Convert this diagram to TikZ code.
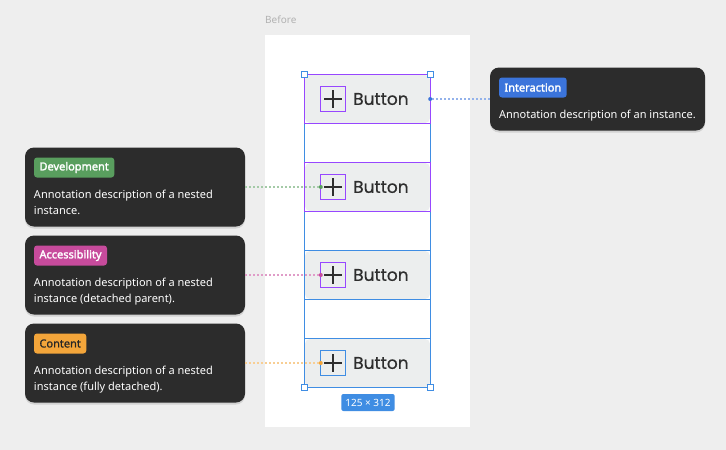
\documentclass[tikz,border=0pt]{standalone}
\usepackage{fontspec}
\setmainfont{Noto Sans}
\newfontfamily\btnfont{Poppins}[FakeBold=0.6]
\newfontfamily\tagfont{Noto Sans}[FakeBold=2.2]
\newfontfamily\plaintagfont{Noto Sans}[FakeBold=0.8]
\usetikzlibrary{shadows,positioning}
\definecolor{canvas}{HTML}{EEEEEE}
\definecolor{cardgray}{HTML}{2C2C2C}
\definecolor{selblue}{HTML}{3F8DE3}
\definecolor{compurple}{HTML}{9747FF}
\definecolor{btngray}{HTML}{ECEEEE}
\definecolor{iconink}{HTML}{2E2E2E}
\definecolor{tagblue}{HTML}{3B74DB}
\definecolor{taggreen}{HTML}{599E5E}
\definecolor{tagpink}{HTML}{C74B9C}
\definecolor{tagorange}{HTML}{F3A53A}
\tikzstyle{frame edge} = [draw=selblue,line width=0.8pt]
\tikzstyle{comp edge} = [draw=compurple,line width=0.8pt]

\begin{document}
\begin{tikzpicture}
[x=1pt,y=-1pt,
button/.style={shape=rectangle,minimum width=125pt,minimum height=48pt,inner sep=0pt,rounded corners=5pt,fill=btngray},
icon/.style={shape=rectangle,minimum size=24pt,inner sep=0pt},
handle/.style={shape=rectangle,minimum size=6pt,inner sep=0pt,fill=white,frame edge},
card/.style={shape=rectangle,rounded corners=9pt,fill=cardgray,inner sep=0pt,drop shadow={opacity=0.25,shadow xshift=0pt,shadow yshift=-2pt}},
tagbox/.style={shape=rectangle,rounded corners=3pt,inner xsep=5.5pt,minimum height=20pt},
desc/.style={inner sep=0pt,text width=205pt,align=flush left,text=white,font=\fontsize{11}{16}\selectfont},
link/.style={dash pattern=on 2pt off 2pt,line width=1.2pt}]

%% canvas and frame
\fill[canvas] (0,0) rectangle (726,450);
\useasboundingbox (0,0) rectangle (726,450);
\fill[white] (265,35) rectangle (470,427);
\node (before) at (265,20) [anchor=west,inner sep=0pt,text=black!30,font=\fontsize{10}{12}\selectfont] {Before};

%% buttons
\foreach \btn/\y in {btnA/99, btnB/187, btnC/275, btnD/363}
{
\node (\btn) at (367.5,\y) [button] {};
\node (\btn-icon) at (333,\y) [icon] {};
\draw[iconink,line width=1.6pt] (\btn-icon.center) ++(-9,0) -- ++(18,0) (\btn-icon.center) ++(0,-9) -- ++(0,18);
\node (\btn-text) at (353,\y) [anchor=west,inner sep=0pt,text=iconink,font=\btnfont\fontsize{17}{20}\selectfont] {Button};
}

\draw[frame edge] (btnA.north west) rectangle (btnD.south east);
\foreach \btn in {btnC, btnD}
{
\draw[frame edge] (\btn.north west) rectangle (\btn.south east);
}
\foreach \btn in {btnA, btnB}
{
\draw[comp edge] (\btn.north west) rectangle (\btn.south east);
}
\foreach \btn in {btnA, btnB, btnC}
{
\draw[comp edge] (\btn-icon.north west) rectangle (\btn-icon.south east);
}
\draw[frame edge] (btnD-icon.north west) rectangle (btnD-icon.south east);

%% handles and size
\foreach \corner/\at in {hNW/btnA.north west, hNE/btnA.north east, hSW/btnD.south west, hSE/btnD.south east}
{
\node (\corner) at (\at) [handle] {};
}
\node (size) at (368,402.5) [fill=selblue,rounded corners=2pt,inner xsep=4pt,minimum height=17pt,text=white,font=\fontsize{10}{12}\selectfont] {125 × 312};

%% annotation cards
\foreach \card/\x/\y/\w/\h/\tag/\tagcol/\tagtext/\tagface/\desctext in {
interaction/597.5/99/215/63/Interaction/tagblue/white/\tagfont/{Annotation description of an instance.},
development/135/187/220/79/Development/taggreen/white/\tagfont/{Annotation description of a nested instance.},
accessibility/135/275/220/79/Accessibility/tagpink/white/\tagfont/{Annotation description of a nested instance (detached parent).},
content/135/363/220/79/Content/tagorange/black!85/\plaintagfont/{Annotation description of a nested instance (fully detached).}}
{
\node (\card) at (\x,\y) [card,minimum width=\w pt,minimum height=\h pt] {};
\node (\card-tag) [tagbox,fill=\tagcol,text=\tagtext,font=\tagface\fontsize{11}{12}\selectfont,anchor=north west] at ([xshift=9pt,yshift=-10pt]\card.north west) {\tag};
\node (\card-desc) [desc,below right=12.5pt and 0pt of \card-tag.south west] {\desctext};
}

%% links
\foreach \start/\target/\col in {interaction.west/btnA.east/tagblue, development.east/btnB-icon.west/taggreen, accessibility.east/btnC-icon.west/tagpink, content.east/btnD-icon.west/tagorange}
{
\draw[link,\col!55] (\start) -- (\target);
\fill[\col] (\target) circle (2pt);
}
\end{tikzpicture}
\end{document}
